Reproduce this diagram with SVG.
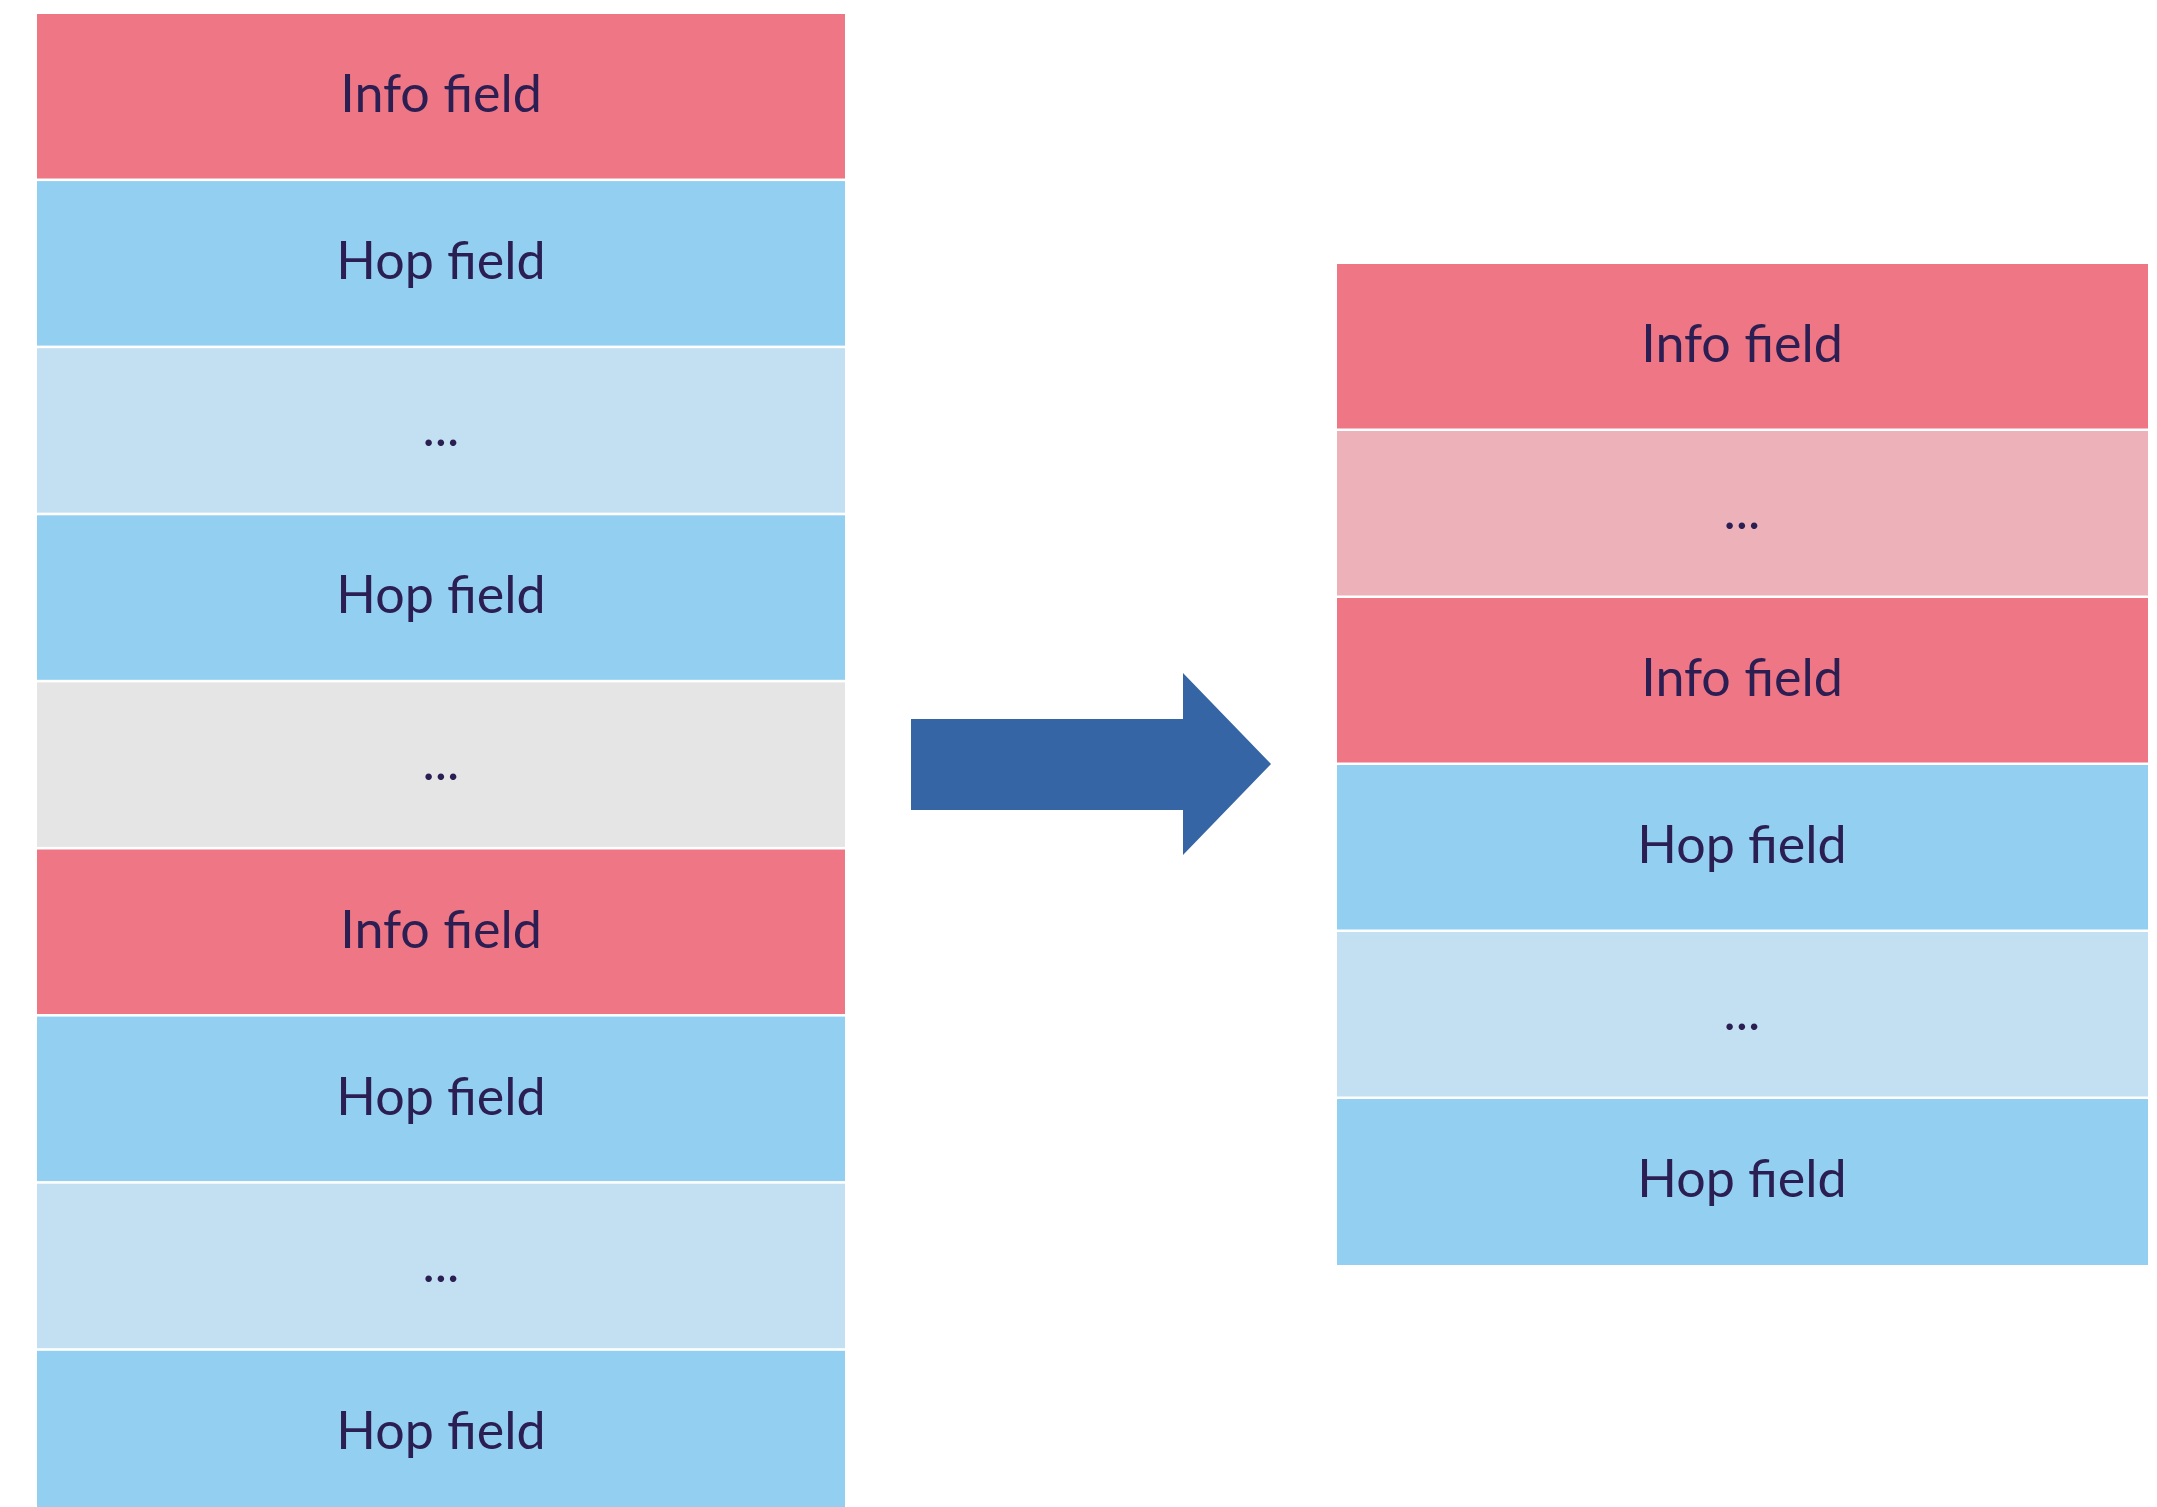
<svg xmlns="http://www.w3.org/2000/svg" width="2157" height="1507" viewBox="0 0 2157 1507">
  <style>
    .info { fill: #EE7685; }
    .hop { fill: #92CFF1; }
    .hop-more { fill: #C3E0F2; }
    .info-more { fill: #EDB2B9; }
    .other { fill: #E5E5E5; }
    .label { font-family: Lato, "Open Sans", sans-serif; font-size: 52px; fill: #2B1E52; text-anchor: middle; }
  </style>
  <rect width="2157" height="1507" fill="#FFFFFF"/>

  <!-- Original path: interleaved segments -->
  <g id="left-stack">
    <g id="l0"><rect class="info" x="37" y="14" width="808" height="164.5"/><text class="label" x="441" y="112">Info field</text></g>
    <g id="l1"><rect class="hop" x="37" y="181.1" width="808" height="164.5"/><text class="label" x="441" y="279.1">Hop field</text></g>
    <g id="l2"><rect class="hop-more" x="37" y="348.2" width="808" height="164.5"/><text class="label" x="441" y="446.2">...</text></g>
    <g id="l3"><rect class="hop" x="37" y="515.3" width="808" height="164.5"/><text class="label" x="441" y="613.3">Hop field</text></g>
    <g id="l4"><rect class="other" x="37" y="682.4" width="808" height="164.5"/><text class="label" x="441" y="780.4">...</text></g>
    <g id="l5"><rect class="info" x="37" y="849.5" width="808" height="164.5"/><text class="label" x="441" y="947.5">Info field</text></g>
    <g id="l6"><rect class="hop" x="37" y="1016.6" width="808" height="164.5"/><text class="label" x="441" y="1114.6">Hop field</text></g>
    <g id="l7"><rect class="hop-more" x="37" y="1183.7" width="808" height="164.5"/><text class="label" x="441" y="1281.7">...</text></g>
    <g id="l8"><rect class="hop" x="37" y="1350.8" width="808" height="170"/><text class="label" x="441" y="1448.8">Hop field</text></g>
  </g>

  <!-- Block arrow -->
  <g id="connectors">
    <polygon points="911,719 1183,719 1183,673 1271,764 1183,855 1183,810 911,810" fill="#3565A4"/>
  </g>

  <!-- Reordered path: info fields first, then hop fields -->
  <g id="right-stack">
    <g id="r0"><rect class="info" x="1337" y="264" width="811" height="164.5"/><text class="label" x="1742" y="362">Info field</text></g>
    <g id="r1"><rect class="info-more" x="1337" y="431" width="811" height="164.5"/><text class="label" x="1742" y="529">...</text></g>
    <g id="r2"><rect class="info" x="1337" y="598" width="811" height="164.5"/><text class="label" x="1742" y="696">Info field</text></g>
    <g id="r3"><rect class="hop" x="1337" y="765" width="811" height="164.5"/><text class="label" x="1742" y="863">Hop field</text></g>
    <g id="r4"><rect class="hop-more" x="1337" y="932" width="811" height="164.5"/><text class="label" x="1742" y="1030">...</text></g>
    <g id="r5"><rect class="hop" x="1337" y="1099" width="811" height="166"/><text class="label" x="1742" y="1197">Hop field</text></g>
  </g>
</svg>
